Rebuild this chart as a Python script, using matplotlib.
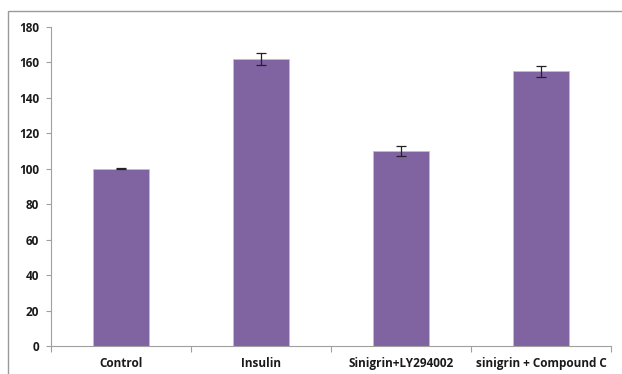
import matplotlib
matplotlib.use("Agg")
import matplotlib.pyplot as plt
from matplotlib.patches import Rectangle

categories = ["Control", "Insulin", "Sinigrin+LY294002", "sinigrin + Compound C"]
values = [100, 162, 110, 155]
errors = [0.3, 3.3, 3.0, 3.0]
yticks = [0, 20, 40, 60, 80, 100, 120, 140, 160, 180]

plt.rcParams['font.family'] = ['Open Sans', 'DejaVu Sans']

W, H = 622, 374
fig = plt.figure(figsize=(W/100, H/100), dpi=100)
fig.patch.set_facecolor('white')

# outer chart frame (extends beyond image right/bottom)
fig.add_artist(Rectangle((8/W, -0.1), 1.2, (H-11)/H + 0.1, transform=fig.transFigure,
                         fill=False, edgecolor='#9a9a9a', linewidth=1.0))

ax = fig.add_axes([51/W, 1-346/H, 560/W, (346-27)/H])
x = list(range(len(categories)))
ax.bar(x, values, width=0.4, color='#8064A2', edgecolor='#c8b8da', linewidth=0.6,
       yerr=errors, error_kw=dict(ecolor='#222222', elinewidth=0.9, capsize=3.5, capthick=0.9),
       zorder=2)
ax.set_xlim(-0.5, len(categories) - 0.5)
ax.set_ylim(0, 180)
ax.set_yticks(yticks)
ax.set_yticklabels([str(t) for t in yticks], fontsize=8.5, fontweight='bold', color='#1a1a1a')
ax.set_xticks(x)
ax.set_xticklabels(categories, fontsize=8.5, fontweight='bold', color='#1a1a1a')
ax.tick_params(axis='x', length=0, pad=8)
ax.set_xticks([i + 0.5 for i in range(-1, len(categories))], minor=True)
ax.tick_params(axis='x', which='minor', length=4, color='#a0a0a0', width=0.8)
ax.tick_params(axis='y', length=3.5, color='#a0a0a0', width=0.8, pad=5)
for s in ['top', 'right']:
    ax.spines[s].set_visible(False)
for s in ['left', 'bottom']:
    ax.spines[s].set_color('#a0a0a0')
    ax.spines[s].set_linewidth(0.8)

fig.savefig("out.png", dpi=100)
